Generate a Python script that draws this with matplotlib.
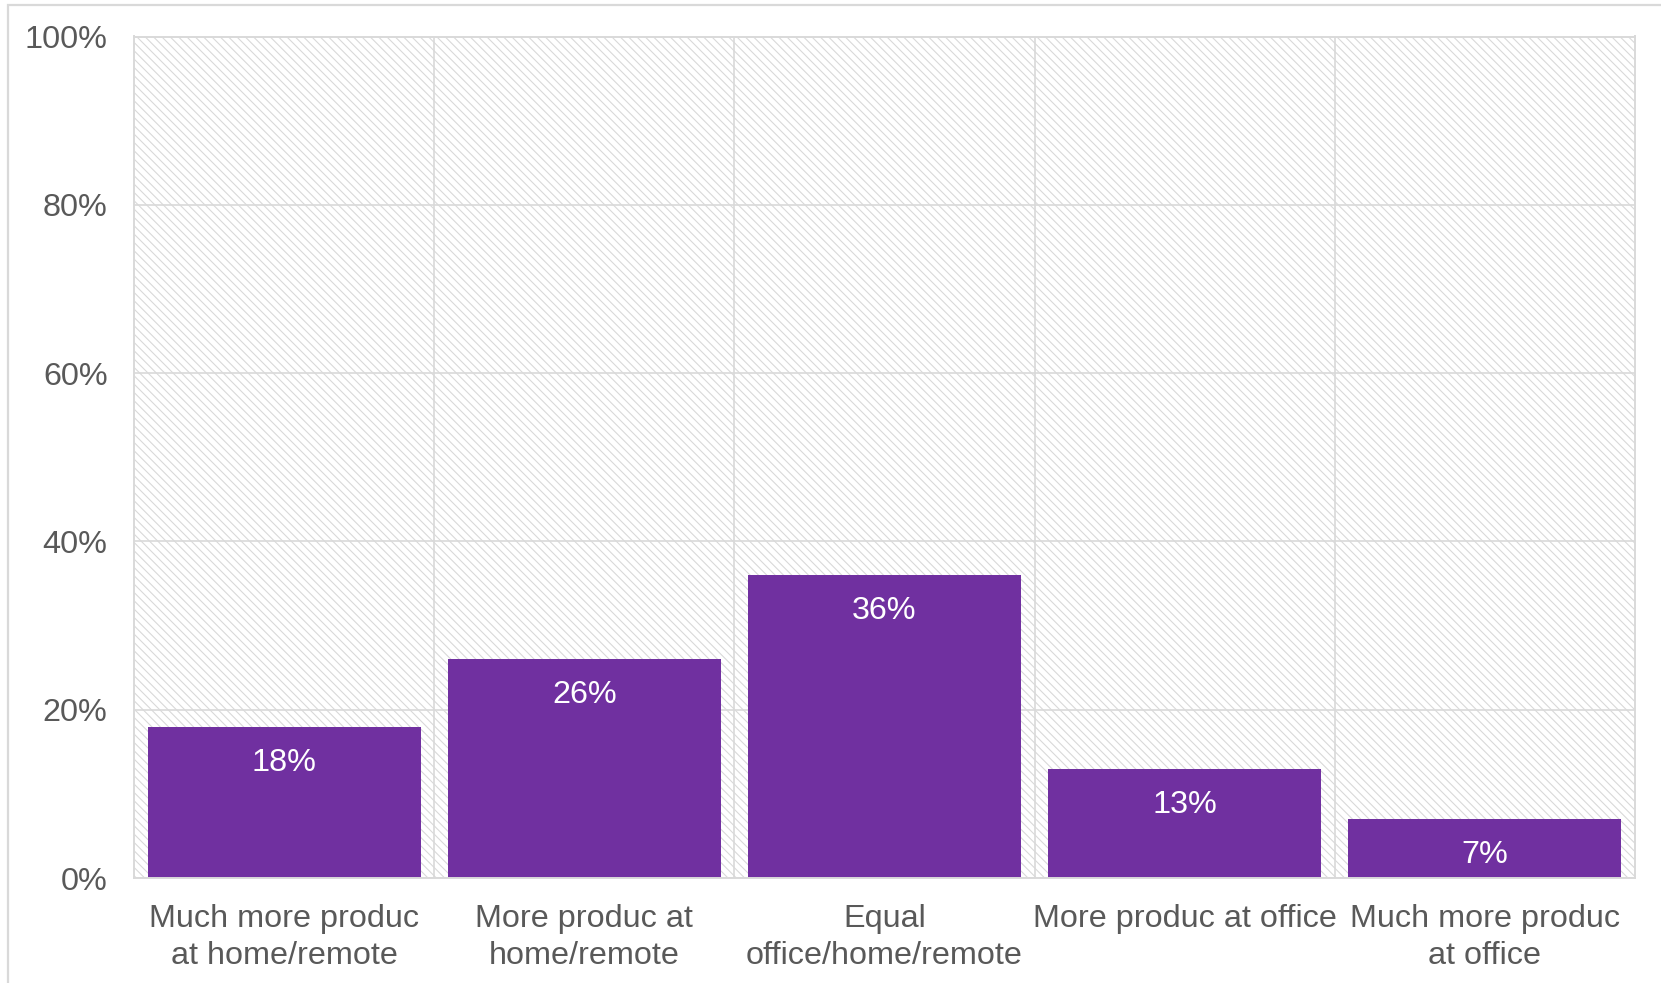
import matplotlib
matplotlib.use("Agg")
import matplotlib.pyplot as plt
from matplotlib.patches import Rectangle
from matplotlib.ticker import FixedLocator, FuncFormatter

categories = [
    "Much more produc\nat home/remote",
    "More produc at\nhome/remote",
    "Equal\noffice/home/remote",
    "More produc at office",
    "Much more produc\nat office",
]
shares = [18, 26, 36, 13, 7]
y_ticks = [0, 20, 40, 60, 80, 100]

BAR_COLOR = "#7030a0"
TEXT_COLOR = "#595959"
GRID_COLOR = "#d9d9d9"
FONT_SIZE = 23.3

plt.rcParams["font.family"] = ["Liberation Sans", "DejaVu Sans"]
plt.rcParams["hatch.linewidth"] = 0.8
plt.rcParams["hatch.color"] = GRID_COLOR

W, H = 1661, 983
fig = plt.figure(figsize=(W / 100, H / 100), dpi=100)
left, right, top, bottom = 134, 1635, 36.5, 878
ax = fig.add_axes([left / W, 1 - bottom / H, (right - left) / W, (bottom - top) / H])

# outer frame around the chart
fig.patches.append(Rectangle((8 / W, -0.05), 1.2, 1 - 5 / H + 0.05,
                             transform=fig.transFigure, fill=False,
                             edgecolor=GRID_COLOR, linewidth=1.6))

# hatched plot area
ax.patch.set_facecolor("white")
ax.add_patch(Rectangle((0, 0), 1, 1, transform=ax.transAxes, facecolor="white",
                       edgecolor=GRID_COLOR, hatch="\\" * 4, linewidth=0, zorder=0))

x = list(range(len(categories)))
bars = ax.bar(x, shares, width=0.91, color=BAR_COLOR, zorder=3)

for rect, v in zip(bars, shares):
    ax.annotate(f"{v}%", (rect.get_x() + rect.get_width() / 2, v),
                xytext=(0, -26), textcoords="offset points",
                ha="center", va="center", color="white", fontsize=FONT_SIZE, zorder=4)

ax.set_xlim(-0.5, len(categories) - 0.5)
ax.set_ylim(0, 100)
ax.yaxis.set_major_locator(FixedLocator(y_ticks))
ax.yaxis.set_major_formatter(FuncFormatter(lambda v, p: f"{v:.0f}%"))
ax.set_xticks(x)
ax.set_xticklabels(categories, linespacing=1.28)
ax.xaxis.set_minor_locator(FixedLocator([i + 0.5 for i in x[:-1]]))

ax.tick_params(axis="y", length=0, pad=19, labelsize=FONT_SIZE, labelcolor=TEXT_COLOR)
ax.tick_params(axis="x", which="both", length=0, pad=19, labelsize=FONT_SIZE, labelcolor=TEXT_COLOR)

ax.set_axisbelow(True)
ax.grid(axis="y", which="major", color=GRID_COLOR, linewidth=1.2)
ax.grid(axis="x", which="minor", color=GRID_COLOR, linewidth=1.2)
ax.grid(axis="x", which="major", visible=False)

for side in ["left", "right", "top", "bottom"]:
    ax.spines[side].set_color(GRID_COLOR)
    ax.spines[side].set_linewidth(1.4)
    ax.spines[side].set_zorder(5)

fig.savefig("out.png", dpi=100)
